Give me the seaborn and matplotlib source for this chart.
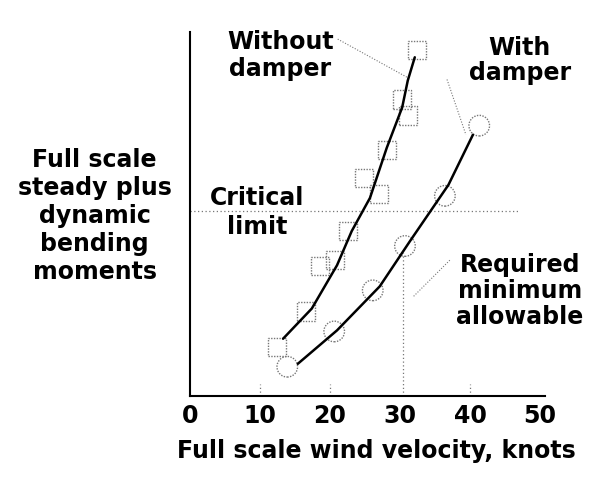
import numpy as np
import pandas as pd
import seaborn as sns
import matplotlib.pyplot as plt

wo_x = [32.4, 30.3, 31.1, 28.1, 24.9, 27.0, 22.6, 18.6, 20.7, 16.6, 12.4]
wo_y = [95.0, 81.5, 77.1, 67.7, 59.9, 55.5, 45.3, 35.6, 37.3, 23.2, 13.5]
wo_fit_x = [13.3, 17.4, 21.0, 23.1, 25.7, 28.1, 30.3, 31.1, 32.1]
wo_fit_y = [15.7, 24.0, 35.9, 45.3, 54.4, 68.2, 79.3, 86.7, 93.1]

wd_x = [41.3, 36.4, 30.7, 26.1, 20.6, 13.9]
wd_y = [74.3, 55.0, 41.2, 29.0, 17.7, 8.0]
wd_fit_x = [15.4, 21.0, 27.1, 31.4, 36.9, 40.4]
wd_fit_y = [8.8, 18.0, 30.1, 42.5, 58.0, 71.8]

critical_limit = 50.8
required_speed = 30.4
x_ticks = [0, 10, 20, 30, 40, 50]

sns.set_style('ticks')
plt.rcParams['font.family'] = ['DejaVu Sans']
plt.rcParams['text.color'] = 'black'
plt.rcParams['axes.labelcolor'] = 'black'
plt.rcParams['xtick.color'] = 'black'

fig = plt.figure(figsize=(5.99, 4.81), dpi=100)
ax = fig.add_axes([0.317, 0.175, 0.593, 0.756])

grey = '#777777'
FS = 17
# reference lines
ax.axhline(critical_limit, xmin=0, xmax=47.1 / 50.7, color=grey, lw=0.9, ls=(0, (1, 2)))
ax.plot([required_speed, required_speed], [0, 39.2], color=grey, lw=0.9, ls=(0, (1, 2)))
for xv in [10, 20, 40]:
    ax.plot([xv, xv], [0, 3.3], color=grey, lw=0.9, ls=(0, (1, 2)))

fit = pd.concat([
    pd.DataFrame({'x': wo_fit_x, 'y': wo_fit_y, 'case': 'Without damper'}),
    pd.DataFrame({'x': wd_fit_x, 'y': wd_fit_y, 'case': 'With damper'}),
])
sns.lineplot(data=fit, x='x', y='y', units='case', estimator=None, sort=False,
             color='black', lw=1.8, ax=ax, legend=False)

sns.scatterplot(x=wo_x, y=wo_y, marker='s', s=170, facecolor='none',
                edgecolor=grey, linewidth=1.0, linestyle=(0, (1, 1)), ax=ax)
sns.scatterplot(x=wd_x, y=wd_y, marker='o', s=220, facecolor='none',
                edgecolor=grey, linewidth=1.0, linestyle=(0, (1, 1)), ax=ax)

# leader lines
lead = dict(color=grey, lw=0.8, ls=(0, (1, 1.5)))
ax.plot([21.1, 31.0], [98.1, 87.6], **lead)
ax.plot([36.7, 39.4], [87.0, 71.8], **lead)
ax.plot([37.1, 31.9], [37.3, 27.3], **lead)

txt = dict(fontsize=FS, fontweight='bold', ha='center', va='center', linespacing=1.1)
ax.text(12.9, 93.9, 'Without\ndamper', fontsize=FS, fontweight='bold', ha='center',
        va='center', linespacing=1.18)
ax.text(47.1, 92.5, 'With\ndamper', **txt)
ax.text(9.6, 50.6, 'Critical\nlimit', fontsize=FS, fontweight='bold', ha='center',
        va='center', linespacing=1.25)
ax.text(47.1, 29.0, 'Required\nminimum\nallowable', **txt)

ax.set_xlim(0, 50.7)
ax.set_ylim(0, 100)
ax.set_xticks(x_ticks)
ax.set_xticklabels([str(t) for t in x_ticks], fontsize=FS, fontweight='bold')
ax.set_yticks([])
ax.tick_params(axis='x', length=0, pad=5)
ax.set_xlabel('Full scale wind velocity, knots', fontsize=FS, fontweight='bold')
ax.xaxis.set_label_coords(0.525, -0.115)
ax.xaxis.label.set_va('top')
ax.set_ylabel('Full scale\nsteady plus\ndynamic\nbending\nmoments', fontsize=FS,
              fontweight='bold', rotation=0, ha='center', va='center', linespacing=1.2)
ax.yaxis.set_label_coords(-0.268, 0.497)

sns.despine(ax=ax)
for s in ['left', 'bottom']:
    ax.spines[s].set_linewidth(1.5)
    ax.spines[s].set_color('black')

fig.savefig('out.png', dpi=100)
